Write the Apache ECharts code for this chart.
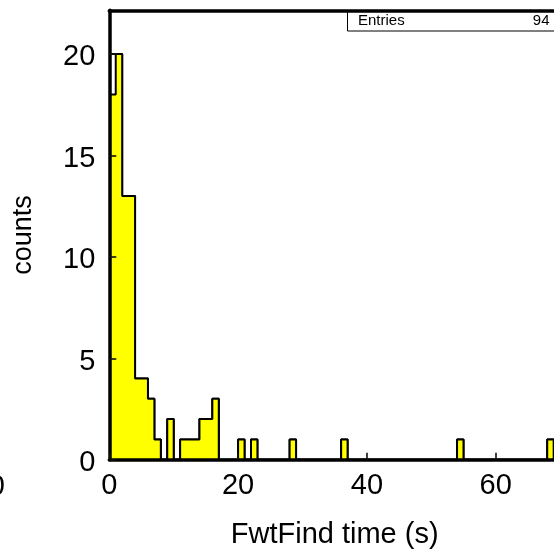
<!DOCTYPE html>
<html>
<head>
<meta charset="utf-8">
<script src="https://cdn.jsdelivr.net/npm/echarts@6/dist/echarts.min.js"></script>
<style>
  html, body { margin: 0; padding: 0; background: #ffffff; }
  #chart { width: 554px; height: 554px; }
</style>
</head>
<body>
<div id="chart"></div>
<script>
// FwtFind timing histogram: 1 s bins from 0 to 70 s
const binStart = 0;
const binWidth = 1;
const counts = [
  18, 20, 13, 13, 4, 4, 3, 1, 0, 2,
   0,  1,  1,  1, 2, 2, 3, 0, 0, 0,
   1,  0,  1,  0, 0, 0, 0, 0, 1, 0,
   0,  0,  0,  0, 0, 0, 1, 0, 0, 0,
   0,  0,  0,  0, 0, 0, 0, 0, 0, 0,
   0,  0,  0,  0, 1, 0, 0, 0, 0, 0,
   0,  0,  0,  0, 0, 0, 0, 0, 1, 0
];
// second outline drawn on top (differs in the first bin)
const overlayCounts = [
  20, 20, 13, 13, 4, 4, 3, 1, 0, 2,
   0,  1,  1,  1, 2, 2, 3, 0, 0, 0,
   1,  0,  1,  0, 0, 0, 0, 0, 1, 0,
   0,  0,  0,  0, 0, 0, 1, 0, 0, 0,
   0,  0,  0,  0, 0, 0, 0, 0, 0, 0,
   0,  0,  0,  0, 1, 0, 0, 0, 0, 0,
   0,  0,  0,  0, 0, 0, 0, 0, 1, 0
];
const xTicks = [0, 20, 40, 60];
const yTicks = [0, 5, 10, 15, 20];
const xRange = [0, 70];
const yRange = [0, 22.15];
const entries = 94;
const xTitle = 'FwtFind time (s)';
const yTitle = 'counts';

// step data: one point per bin low edge, plus the closing upper edge
function stepData(values) {
  const pts = values.map((c, i) => [binStart + i * binWidth, c]);
  pts.push([binStart + values.length * binWidth, 0]);
  return pts;
}

const FONT = '"Liberation Sans", Arial, Helvetica, sans-serif';
const chart = echarts.init(document.getElementById('chart'), null, { renderer: 'canvas' });

chart.setOption({
  backgroundColor: '#ffffff',
  animation: false,
  grid: {
    left: 109.3, top: 10.3, width: 450.8, height: 449.4,
    containLabel: false, outerBoundsMode: 'none'
  },
  xAxis: [{
    type: 'value',
    position: 'bottom',
    min: xRange[0], max: xRange[1], interval: xTicks[1] - xTicks[0],
    z: 10,
    axisLine: { show: true, onZero: false, lineStyle: { color: '#000', width: 3.5 } },
    axisTick: { show: true, inside: true, length: 7, lineStyle: { color: '#111', width: 1.6 } },
    axisLabel: {
      show: true, margin: 12, showMaxLabel: false,
      fontFamily: FONT, fontSize: 29, color: '#000',
      formatter: v => (xTicks.indexOf(v) >= 0 ? String(v) : '')
    },
    splitLine: { show: false },
    name: xTitle, nameLocation: 'middle', nameGap: 61,
    nameTextStyle: { fontFamily: FONT, fontSize: 29, color: '#000' }
  }, {
    type: 'value',
    position: 'top',
    min: xRange[0], max: xRange[1],
    z: 10,
    axisLine: { show: true, onZero: false, lineStyle: { color: '#000', width: 3.5 } },
    axisTick: { show: false },
    axisLabel: { show: false },
    splitLine: { show: false }
  }],
  yAxis: {
    type: 'value',
    min: yRange[0], max: yRange[1], interval: yTicks[1] - yTicks[0],
    z: 10,
    axisLine: { show: true, onZero: false, lineStyle: { color: '#000', width: 3.5 } },
    axisTick: { show: true, inside: true, length: 7, lineStyle: { color: '#111', width: 1.6 } },
    axisLabel: {
      show: true, margin: 14, showMaxLabel: false,
      fontFamily: FONT, fontSize: 29, color: '#000',
      formatter: v => (yTicks.indexOf(v) >= 0 ? '{n|' + v + '}' : ''),
      rich: {
        n: { fontFamily: FONT, fontSize: 29, color: '#000', padding: [7, 0, 0, 0] }
      }
    },
    splitLine: { show: false },
    name: yTitle, nameLocation: 'middle', nameGap: 72, nameRotate: 90,
    nameTextStyle: { fontFamily: FONT, fontSize: 27, color: '#000' }
  },
  series: [{
    type: 'line',
    name: 'overlay',
    step: 'end',
    data: stepData(overlayCounts),
    showSymbol: false,
    symbol: 'none',
    lineStyle: { color: '#000', width: 2 },
    z: 3,
    silent: true
  }, {
    type: 'line',
    name: 'FwtFind',
    step: 'end',
    data: stepData(counts),
    showSymbol: false,
    symbol: 'none',
    lineStyle: { color: '#000', width: 2 },
    areaStyle: { color: '#ffff00', opacity: 1, origin: 'start' },
    z: 4,
    silent: true
  }],
  graphic: [{
    // statistics box
    type: 'group',
    z: 5,
    children: [{
      type: 'rect',
      shape: { x: 347.5, y: 10.5, width: 230, height: 20.5 },
      style: { fill: '#ffffff', stroke: '#000', lineWidth: 1 }
    }, {
      type: 'text',
      style: { x: 358, y: 21, text: 'Entries', font: '15px ' + FONT, fill: '#000', textAlign: 'left', textVerticalAlign: 'middle' }
    }, {
      type: 'text',
      style: { x: 549.5, y: 21, text: String(entries), font: '15px ' + FONT, fill: '#000', textAlign: 'right', textVerticalAlign: 'middle' }
    }]
  }, {
    // edge of the neighbouring panel's axis label
    type: 'text',
    z: 5,
    style: { x: 5, y: 487, text: '0', font: '29px ' + FONT, fill: '#000', textAlign: 'right', textVerticalAlign: 'middle' }
  }]
});
</script>
</body>
</html>
